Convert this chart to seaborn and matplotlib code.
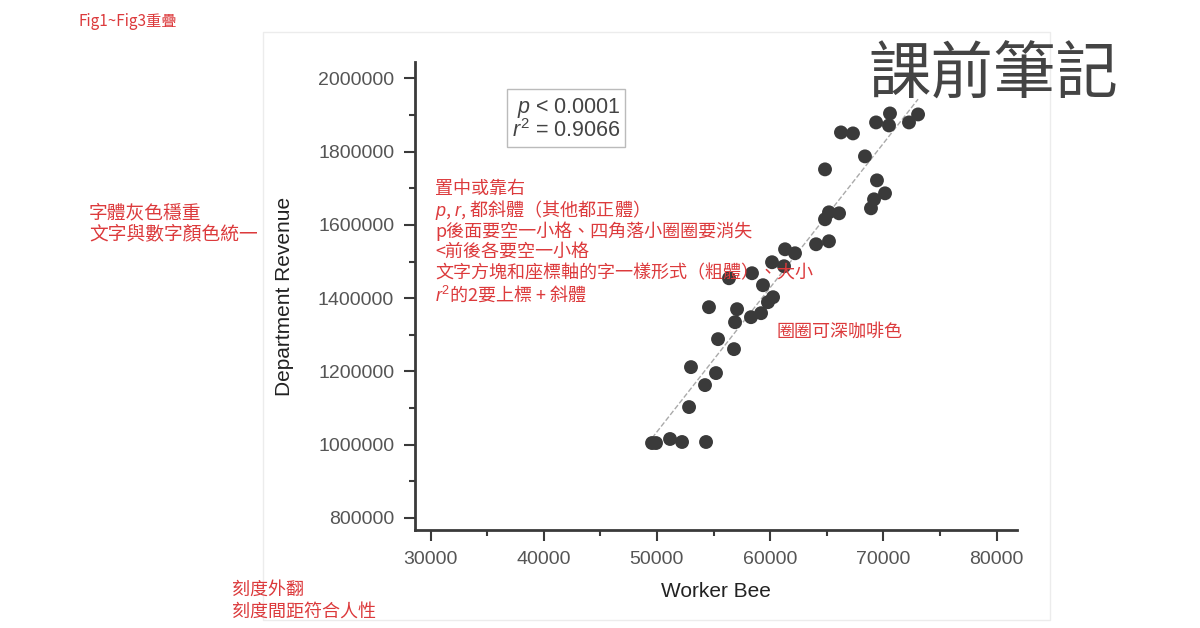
import numpy as np
import pandas as pd
import matplotlib
matplotlib.use('Agg')
import matplotlib.pyplot as plt
from matplotlib.patches import Rectangle
from matplotlib.ticker import MultipleLocator
import seaborn as sns

sns.set_style('ticks')
plt.rcParams['font.family'] = ['Liberation Sans', 'Noto Sans CJK TC', 'DejaVu Sans']
plt.rcParams['mathtext.fontset'] = 'custom'
plt.rcParams['mathtext.rm'] = 'Liberation Sans'
plt.rcParams['mathtext.it'] = 'Liberation Sans:italic'

# 讀圖估出來的資料
worker_bee = [49570, 49920, 51160, 52220, 54340, 52840, 53010, 54250, 55220, 55400,
              56810, 56900, 54600, 57080, 58310, 59200, 59810, 60260, 59370, 56370,
              58400, 60170, 61230, 61320, 62200, 64060, 65200, 64850, 65200, 66090,
              68910, 69180, 70150, 69440, 64850, 68380, 66260, 67320, 69360, 70500,
              70590, 72270, 73070]
dept_revenue = [1004500, 1004500, 1015500, 1007300, 1007300, 1102700, 1211800, 1162700, 1195500, 1288200,
                1260900, 1334500, 1375500, 1370000, 1348200, 1359100, 1389100, 1402700, 1435500, 1454500,
                1468200, 1498200, 1487300, 1533600, 1522700, 1547300, 1555500, 1615500, 1634500, 1631800,
                1645500, 1670000, 1686400, 1721800, 1751800, 1787300, 1852700, 1850000, 1880000, 1871800,
                1904500, 1880000, 1901800]
x_ticks = [30000, 40000, 50000, 60000, 70000, 80000]
y_ticks = [800000, 1000000, 1200000, 1400000, 1600000, 1800000, 2000000]
stats_text = '$p$ < 0.0001\n$r^2$ = 0.9066'

df = pd.DataFrame({'Worker Bee': worker_bee, 'Department Revenue': dept_revenue})

fig = plt.figure(figsize=(12, 6.28), dpi=100)
ax = fig.add_axes([415/1200, 1-530/628, (1017-415)/1200, (530-62)/628])

sns.regplot(data=df, x='Worker Bee', y='Department Revenue', scatter=False, ci=None,
            truncate=True, ax=ax, line_kws=dict(color='#aaaaaa', lw=1, ls='--', zorder=1))
sns.scatterplot(data=df, x='Worker Bee', y='Department Revenue', ax=ax, s=100,
                color='#3a3a3a', edgecolor='none', zorder=2)

ax.set_xlim(28630, 81810)
ax.set_ylim(767000, 2045000)
ax.set_xticks(x_ticks)
ax.set_xticklabels([str(t) for t in x_ticks])
ax.set_yticks(y_ticks)
ax.set_yticklabels([str(t) for t in y_ticks])
ax.xaxis.set_minor_locator(MultipleLocator(5000))
ax.yaxis.set_minor_locator(MultipleLocator(100000))
sns.despine(ax=ax)
for s in ['left', 'bottom']:
    ax.spines[s].set_linewidth(2)
    ax.spines[s].set_color('#3a3a3a')
ax.tick_params(which='major', direction='out', length=8, width=1.5, color='#3a3a3a',
               labelsize=14, labelcolor='#555555', pad=7)
ax.tick_params(which='minor', direction='out', length=4.5, width=1.5, color='#3a3a3a')
ax.set_xlabel('Worker Bee', fontsize=15, color='#222222', labelpad=10)
ax.set_ylabel('Department Revenue', fontsize=15, color='#222222', labelpad=17)

# p / r2 方塊
fig.text(566/1200, 1-119/628, stats_text, ha='center', va='center', multialignment='right',
         fontsize=15.5, color='#444444', linespacing=0.95,
         bbox=dict(boxstyle='square,pad=0.22', fc='white', ec='#bbbbbb', lw=1))

# 標題
fig.text(868/1200, 1-76/628, '課前筆記', fontsize=45, color='#444444', va='center',
         family=['Noto Sans CJK TC', 'DejaVu Sans'])

# 紅字註解
red = '#dc3a3c'
cjk = ['Noto Sans CJK TC', 'DejaVu Sans']
def note(x, y, s, size=13):
    fig.text(x/1200, 1-y/628, s, fontsize=size, color=red, va='center', ha='left', family=cjk)

note(78, 22, 'Fig1~Fig3重疊', 11)
note(89, 213, '字體灰色穩重', 13.5)
note(89, 234, '文字與數字顏色統一', 13.5)
note(435, 189, '置中或靠右')
note(435, 210, '$p$, $r$, 都斜體（其他都正體）')
note(435, 231, 'p後面要空一小格、四角落小圈圈要消失')
note(435, 252, '<前後各要空一小格')
note(435, 273, '文字方塊和座標軸的字一樣形式（粗體）、大小')
note(435, 294, '$r^2$的2要上標 + 斜體')
note(777, 332, '圈圈可深咖啡色')
note(232, 590, '刻度外翻')
note(232, 612, '刻度間距符合人性')

# 原圖的淡色外框
fig.add_artist(Rectangle((263/1200, 1-620/628), (1050-263)/1200, (620-32)/628,
                         transform=fig.transFigure, fill=False, ec='#ececec', lw=1))

fig.savefig('out.png', dpi=100)
